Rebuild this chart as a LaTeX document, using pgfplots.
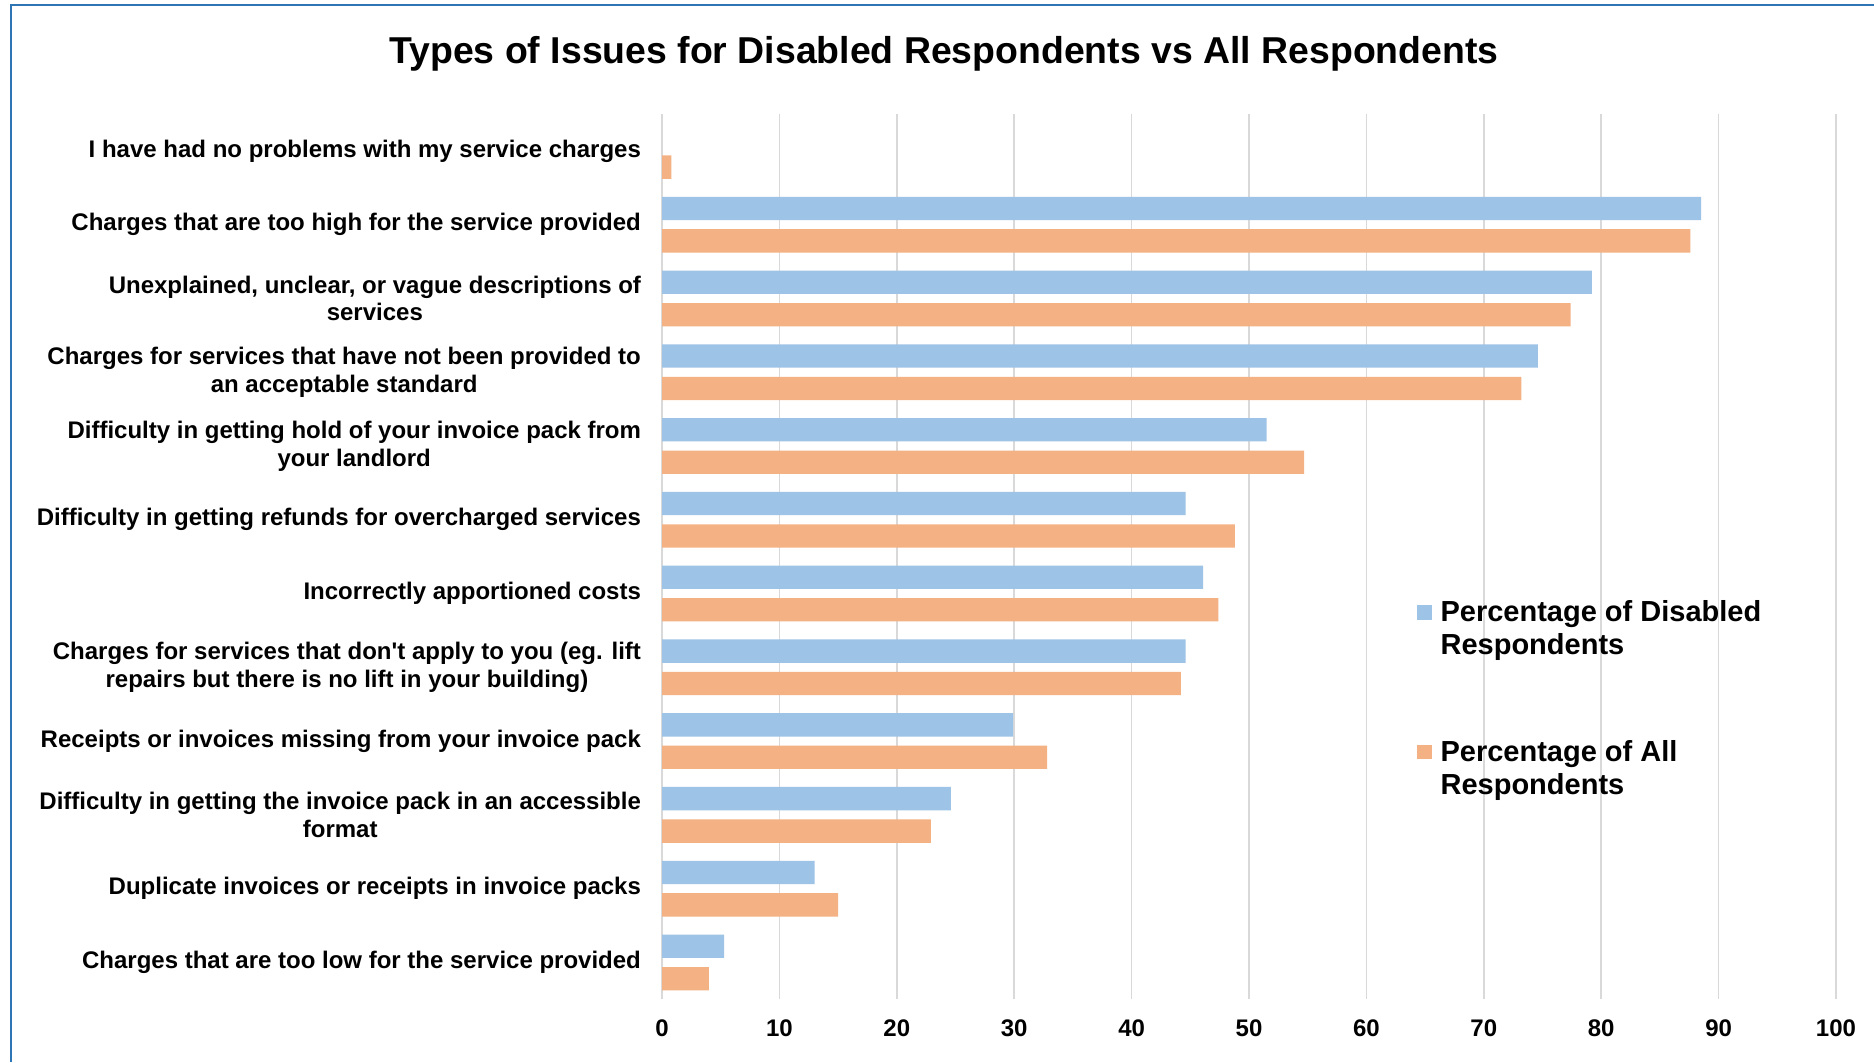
\documentclass[border=0pt]{standalone}
\usepackage{fontspec}
\setmainfont{Liberation Sans}[Ligatures=TeXOff]
\usepackage{pgfplots}
\pgfplotsset{compat=1.18}
\definecolor{barblue}{RGB}{157,195,230}
\definecolor{barorange}{RGB}{244,177,131}
\definecolor{gridgray}{RGB}{217,217,217}
\definecolor{frameblue}{RGB}{46,117,182}
\begin{document}
\begin{tikzpicture}
\useasboundingbox (0,0) rectangle (937pt,531pt);
\draw[frameblue, line width=1pt] (5.5pt,0) -- (5.5pt,528.5pt) -- (937pt,528.5pt);
\node[font=\bfseries\fontsize{18.7}{22}\selectfont] at (472pt,504.2pt) {Types of Issues for Disabled Respondents vs All Respondents};
\begin{axis}[
  at={(331pt,31.35pt)}, anchor=south west,
  width=587pt, height=442.65pt, scale only axis,
  xbar, bar width=0.316,
  xmin=0, xmax=100, ymin=-0.5, ymax=11.5, y dir=reverse,
  xtick={0,10,...,100}, ytick={0,...,11},
  yticklabels={
    {I have had no problems with my service charges},
    {Charges that are too high for the service provided},
    {Unexplained, unclear, or vague descriptions of\\services},
    {Charges for services that have not been provided to\\an acceptable standard},
    {Difficulty in getting hold of your invoice pack from\\your landlord},
    {Difficulty in getting refunds for overcharged services},
    {Incorrectly apportioned costs},
    {Charges for services that don't apply to you (eg. lift\\repairs but there is no lift in your building)},
    {Receipts or invoices missing from your invoice pack},
    {Difficulty in getting the invoice pack in an accessible\\format},
    {Duplicate invoices or receipts in invoice packs},
    {Charges that are too low for the service provided}
  },
  xmajorgrids, major grid style={gridgray, line width=0.8pt},
  axis line style={draw=none},
  major tick length=0pt,
  tick label style={font=\bfseries\fontsize{12}{13.8}\selectfont},
  yticklabel style={align=center, xshift=-7pt},
  xticklabel style={yshift=-6.85pt},
  /pgf/number format/assume math mode=true,
  legend image code/.code={\fill[#1] (0pt,4.65pt) rectangle (7.2pt,11.85pt); \path (9.6pt,8pt);},
  legend style={draw=none, fill=none, at={(0.638,0.46)}, anchor=north west,
    row sep=37.35pt,
    nodes={align=left, font=\bfseries\fontsize{14.5}{16.5}\selectfont}},
  legend cell align=left,
]
\addplot[fill=barblue, draw=none, bar shift=-0.22] coordinates {
  (88.5,1) (79.2,2) (74.6,3) (51.5,4) (44.6,5) (46.1,6) (44.6,7) (29.9,8) (24.6,9) (13.0,10) (5.3,11)};
\addplot[fill=barorange, draw=none, bar shift=0.22] coordinates {
  (0.8,0) (87.6,1) (77.4,2) (73.2,3) (54.7,4) (48.8,5) (47.4,6) (44.2,7) (32.8,8) (22.9,9) (15.0,10) (4.0,11)};
\legend{{Percentage of Disabled\\Respondents},{Percentage of All\\Respondents}}
\end{axis}
\end{tikzpicture}
\end{document}
